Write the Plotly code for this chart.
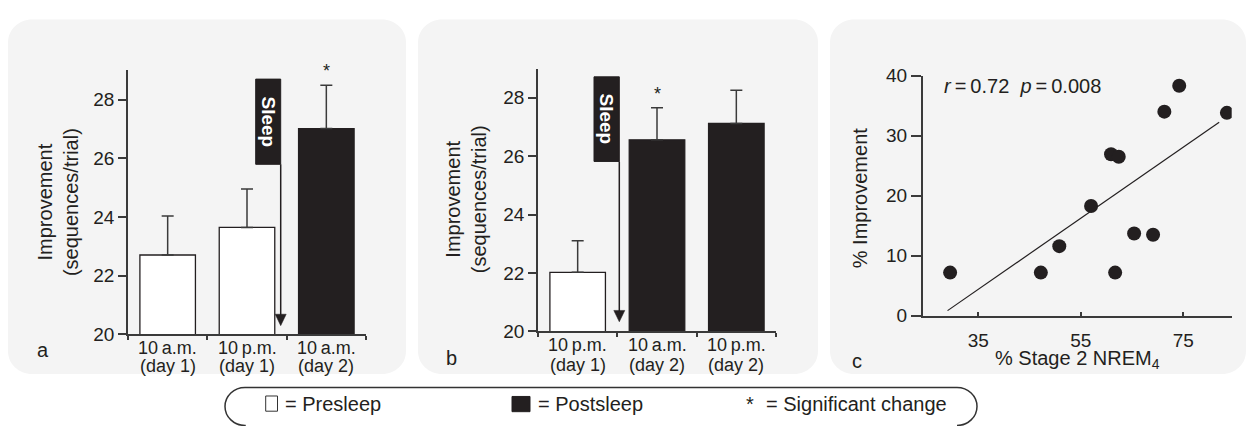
import plotly.graph_objects as go
import numpy as np

W, H = 1248, 426
INK = "#231f20"
AX = "#3a3a3a"
PANEL = "#f4f4f4"
FONT = "Liberation Sans, Arial, sans-serif"

# ---------------- data ----------------
a_categories = ["10 a.m. (day 1)", "10 p.m. (day 1)", "10 a.m. (day 2)"]
a_time = ["10\u2009a.m.", "10\u2009p.m.", "10\u2009a.m."]
a_day = ["(day 1)", "(day 1)", "(day 2)"]
a_means = [22.70, 23.64, 27.01]
a_sem = [1.33, 1.31, 1.48]
a_postsleep = [False, False, True]
a_significant = [False, False, True]

b_categories = ["10 p.m. (day 1)", "10 a.m. (day 2)", "10 p.m. (day 2)"]
b_time = ["10\u2009p.m.", "10\u2009a.m.", "10\u2009p.m."]
b_day = ["(day 1)", "(day 2)", "(day 2)"]
b_means = [22.02, 26.56, 27.12]
b_sem = [1.08, 1.10, 1.14]
b_postsleep = [False, True, True]
b_significant = [False, True, False]

c_stage2 = [29.5, 47.2, 50.8, 57.0, 60.9, 62.4, 61.7, 65.4, 69.1, 71.3, 74.2, 83.5]
c_improvement = [7.2, 7.2, 11.6, 18.3, 26.9, 26.5, 7.2, 13.7, 13.5, 34.0, 38.3, 33.8]
c_fit_extent = [29.0, 82.0]

bar_y_ticks = [20, 22, 24, 26, 28]
c_y_ticks = [0, 10, 20, 30, 40]
c_x_ticks = [35, 55, 75]


def px(x):
    return x / W


def py(y):
    return 1 - y / H


fig = go.Figure()


def note(x, y, text, font, xref="paper", yref="paper", xanchor="center",
         yanchor="middle", **kw):
    fig.add_annotation(x=x, y=y, xref=xref, yref=yref, text=text, showarrow=False,
                       xanchor=xanchor, yanchor=yanchor, font=font, **kw)


def bar_panel(cats, means, sem, post, sig, xa, ya):
    colors = [INK if p else "white" for p in post]
    fig.add_trace(go.Bar(
        x=cats, y=means, width=0.7,
        marker=dict(color=colors, line=dict(color=INK, width=1.3)),
        error_y=dict(type="data", symmetric=False, array=sem,
                     arrayminus=[0] * len(sem), color=AX, thickness=1.5, width=6),
        xaxis=xa, yaxis=ya, showlegend=False, hoverinfo="skip"))
    for c, m, e, s in zip(cats, means, sem, sig):
        if s:
            note(c, m + e, "*", dict(size=18, color=INK, family=FONT),
                 xref=xa, yref=ya, yshift=14)


bar_panel(a_categories, a_means, a_sem, a_postsleep, a_significant, "x", "y")
bar_panel(b_categories, b_means, b_sem, b_postsleep, b_significant, "x2", "y2")

# scatter + regression
slope, intercept = np.polyfit(c_stage2, c_improvement, 1)
r = np.corrcoef(c_stage2, c_improvement)[0, 1]
fx = np.array(c_fit_extent)
fig.add_trace(go.Scatter(x=fx, y=slope * fx + intercept, mode="lines",
                         line=dict(color=INK, width=1.2), xaxis="x3", yaxis="y3",
                         showlegend=False, hoverinfo="skip"))
fig.add_trace(go.Scatter(x=c_stage2, y=c_improvement, mode="markers",
                         marker=dict(size=14, color=INK), xaxis="x3", yaxis="y3",
                         showlegend=False, hoverinfo="skip"))

tickfont = dict(size=19, color=INK, family=FONT)
common_axis = dict(showline=True, linecolor=AX, linewidth=1.5, showgrid=False,
                   zeroline=False, tickcolor=AX, tickwidth=1.5, tickfont=tickfont)

fig.update_layout(
    width=W, height=H, margin=dict(l=0, r=0, t=0, b=0),
    paper_bgcolor="white", plot_bgcolor="rgba(0,0,0,0)",
    font=dict(family=FONT, color=INK),
    xaxis=dict(domain=[px(128), px(366)], anchor="y", type="category",
               range=[-0.5, 2.5], tickson="boundaries", ticks="outside", ticklen=4,
               showticklabels=False, **common_axis),
    yaxis=dict(domain=[py(341), py(63.4)], anchor="x", range=[20, 29],
               tickvals=bar_y_ticks, ticks="outside", ticklen=8, **common_axis),
    xaxis2=dict(domain=[px(538), px(776)], anchor="y2", type="category",
                range=[-0.5, 2.5], tickson="boundaries", ticks="outside", ticklen=4,
                showticklabels=False, **common_axis),
    yaxis2=dict(domain=[py(338), py(61.6)], anchor="x2", range=[20, 29],
                tickvals=bar_y_ticks, ticks="outside", ticklen=8, **common_axis),
    xaxis3=dict(domain=[px(922.7), px(1231.7)], anchor="y3", range=[24.15, 84.44],
                tickvals=c_x_ticks, ticks="inside", ticklen=4,
                ticklabelstandoff=7, **common_axis),
    yaxis3=dict(domain=[py(321.7), py(69)], anchor="x3", range=[0, 40],
                tickvals=c_y_ticks, ticks="outside", ticklen=10, **common_axis),
)

shapes = []


def rrect(x0, y0, x1, y1, rad):
    k = 0.5523 * rad
    pts = [
        f"M{px(x0 + rad)},{py(y0)}", f"L{px(x1 - rad)},{py(y0)}",
        f"C{px(x1 - rad + k)},{py(y0)} {px(x1)},{py(y0 + rad - k)} {px(x1)},{py(y0 + rad)}",
        f"L{px(x1)},{py(y1 - rad)}",
        f"C{px(x1)},{py(y1 - rad + k)} {px(x1 - rad + k)},{py(y1)} {px(x1 - rad)},{py(y1)}",
        f"L{px(x0 + rad)},{py(y1)}",
        f"C{px(x0 + rad - k)},{py(y1)} {px(x0)},{py(y1 - rad + k)} {px(x0)},{py(y1 - rad)}",
        f"L{px(x0)},{py(y0 + rad)}",
        f"C{px(x0)},{py(y0 + rad - k)} {px(x0 + rad - k)},{py(y0)} {px(x0 + rad)},{py(y0)}",
        "Z"]
    return " ".join(pts)


for (x0, x1) in [(8, 406), (418, 818), (830, 1246)]:
    shapes.append(dict(type="path", path=rrect(x0, 10, x1, 383, 24), xref="paper",
                       yref="paper", fillcolor=PANEL, line=dict(width=0), layer="below"))


def sleep_marker(bx0, bx1, by0, by1, tip):
    shapes.append(dict(type="rect", xref="paper", yref="paper", x0=px(bx0), x1=px(bx1),
                       y0=py(by0), y1=py(by1), fillcolor=INK, line=dict(color=INK, width=1)))
    shapes.append(dict(type="line", xref="paper", yref="paper", x0=px(bx1), x1=px(bx1),
                       y0=py(by1), y1=py(tip - 10), line=dict(color=INK, width=1.5)))
    shapes.append(dict(type="path", xref="paper", yref="paper",
                       path=f"M{px(bx1 - 5.5)},{py(tip - 12)} L{px(bx1 + 5.5)},{py(tip - 12)} L{px(bx1)},{py(tip)} Z",
                       fillcolor=INK, line=dict(color=INK, width=0.5)))
    note(px((bx0 + bx1) / 2), py((by0 + by1) / 2), "<b>Sleep</b>",
         dict(size=19, color="white", family=FONT), textangle=90)


sleep_marker(255.7, 280.7, 72.7, 162.3, 332)
sleep_marker(594, 619.3, 70.3, 159.3, 328)

# legend pill
lp = (f"M{px(245)},{py(440)} L{px(245)},{py(437)} "
      f"C{px(233.95)},{py(437)} {px(225)},{py(428.05)} {px(225)},{py(417)} "
      f"C{px(225)},{py(405.95)} {px(233.95)},{py(397)} {px(245)},{py(397)} "
      f"L{px(957)},{py(397)} "
      f"C{px(968.05)},{py(397)} {px(977)},{py(405.95)} {px(977)},{py(417)} "
      f"C{px(977)},{py(428.05)} {px(968.05)},{py(437)} {px(957)},{py(437)}")
shapes.append(dict(type="path", path=lp, xref="paper", yref="paper",
                   line=dict(color="#333333", width=1.5)))
shapes.append(dict(type="rect", xref="paper", yref="paper", x0=px(265.7), x1=px(277.5),
                   y0=py(422), y1=py(406), fillcolor="white", line=dict(color="#333", width=1)))
shapes.append(dict(type="rect", xref="paper", yref="paper", x0=px(512), x1=px(530),
                   y0=py(422.5), y1=py(406.5), fillcolor=INK, line=dict(color=INK, width=1)))
fig.update_layout(shapes=shapes)

lfont = dict(size=20, color=INK, family=FONT)
for xpos, txt in [(283, "= Presleep"), (536, "= Postsleep"), (764, "= Significant change")]:
    note(px(xpos), py(414), txt, lfont, xanchor="left")
note(px(750), py(414), "*", lfont)

# category labels (two lines)
for cats, t1, t2, xa, y1, y2 in [(a_categories, a_time, a_day, "x", 355, 374),
                                  (b_categories, b_time, b_day, "x2", 352, 373)]:
    for c, l1, l2 in zip(cats, t1, t2):
        for txt, yy in [(l1, y1), (l2, y2)]:
            note(c, py(yy), txt, dict(size=18, color=INK, family=FONT), xref=xa)

tfont = dict(size=20, color=INK, family=FONT)
# axis titles
for xc, yc in [(58, 202), (466, 199)]:
    note(px(xc), py(yc), "Improvement<br>(sequences/trial)", tfont, textangle=-90)
note(px(860), py(198), "% Improvement", tfont, textangle=-90)
note(px(1077), py(368), "% Stage 2 NREM<sub>4</sub>", tfont)
note(px(941.7), py(80),
     f"<i>r</i>\u2009=\u2009{r:.2f}\u00a0\u00a0<i>p</i>\u2009=\u20090.008",
     tfont, xanchor="left")

# panel letters
for letter, xc, yc in [("a", 43, 358), ("b", 451, 366), ("c", 857, 369)]:
    note(px(xc), py(yc), letter, tfont)

fig.write_html("out.html", config={"displayModeBar": False},
               post_script="document.body.style.margin='0px';")
